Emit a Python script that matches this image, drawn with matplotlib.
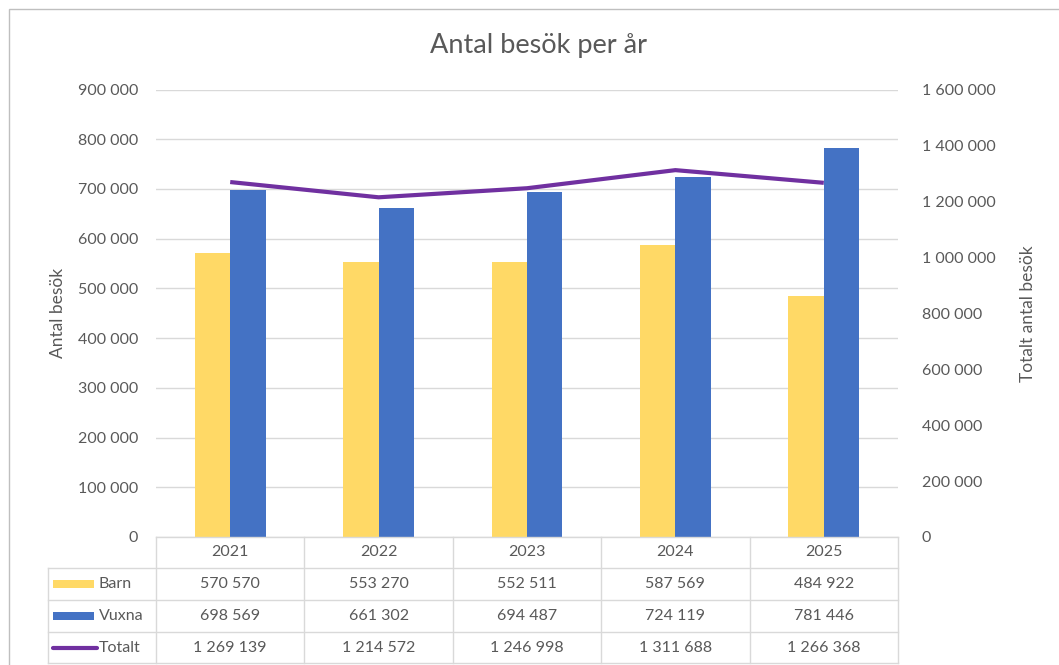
import matplotlib
matplotlib.use("Agg")
import matplotlib.pyplot as plt
import numpy as np
from matplotlib.transforms import blended_transform_factory
from matplotlib.patches import Rectangle
from matplotlib.lines import Line2D

years = ["2021", "2022", "2023", "2024", "2025"]
barn = [570570, 553270, 552511, 587569, 484922]
vuxna = [698569, 661302, 694487, 724119, 781446]
totalt = [1269139, 1214572, 1246998, 1311688, 1266368]
series_names = ["Barn", "Vuxna", "Totalt"]
left_ticks = [0, 100000, 200000, 300000, 400000, 500000, 600000, 700000, 800000, 900000]
right_ticks = [0, 200000, 400000, 600000, 800000, 1000000, 1200000, 1400000, 1600000]

C_BARN = "#FFD966"
C_VUXNA = "#4472C4"
C_TOT = "#7030A0"
TXT = "#595959"
GRID = "#D9D9D9"

plt.rcParams['font.family'] = ['Lato', 'DejaVu Sans']

W, H = 1059, 665
fig = plt.figure(figsize=(W / 100, H / 100), dpi=100)

def fy(py):
    return 1 - py / H

def fx(px):
    return px / W

L, R, T, B = 156, 898, 89.5, 537
ax = fig.add_axes([fx(L), fy(B), fx(R) - fx(L), fy(T) - fy(B)])
ax2 = ax.twinx()

x = np.arange(len(years))
bw = 0.239
ax.bar(x - bw / 2, barn, width=bw, color=C_BARN, zorder=3)
ax.bar(x + bw / 2, vuxna, width=bw, color=C_VUXNA, zorder=3)
ax.set_xlim(-0.5, len(years) - 0.5)
ax.set_ylim(0, 900000)
ax.set_yticks(left_ticks)
ax.set_yticklabels([f"{v:,}".replace(",", " ") for v in left_ticks])
ax.grid(axis='y', color=GRID, linewidth=1.0, zorder=0)
ax.set_xticks([])

ax2.plot(x, totalt, color=C_TOT, linewidth=3.0, solid_capstyle='butt', zorder=4)
ax2.set_ylim(0, 1600000)
ax2.set_yticks(right_ticks)
ax2.set_yticklabels([f"{v:,}".replace(",", " ") for v in right_ticks])

for a in (ax, ax2):
    for s in a.spines.values():
        s.set_visible(False)
    a.tick_params(axis='y', length=0, labelsize=11.5, labelcolor=TXT)
ax.tick_params(axis='y', pad=13)
ax2.tick_params(axis='y', pad=17)

ax.set_ylabel("Antal besök", fontsize=12.5, color=TXT, labelpad=8)
ax2.set_ylabel("Totalt antal besök", fontsize=12.5, color=TXT, labelpad=18)

fig.text(fx(538), fy(45), "Antal besök per år", ha='center', va='center',
         fontsize=19.5, color=TXT)

# chart border
fig.patches.append(Rectangle((fx(9), fy(700)), fx(1100) - fx(9), fy(9) - fy(700),
                             transform=fig.transFigure, fill=False, edgecolor="#BFBFBF",
                             linewidth=1.0))

# data table
tr = blended_transform_factory(ax.transData, fig.transFigure)
rows_y = [537, 568, 600, 632, 663]
lk = dict(color=GRID, linewidth=1.0, transform=fig.transFigure, clip_on=False)
fig.add_artist(Line2D([fx(L), fx(R)], [fy(537), fy(537)], **lk))
for yy in rows_y[1:]:
    fig.add_artist(Line2D([fx(48), fx(R)], [fy(yy), fy(yy)], **lk))
fig.add_artist(Line2D([fx(48), fx(48)], [fy(568), fy(663)], **lk))
for i in range(len(years) + 1):
    xb = i - 0.5
    fig.add_artist(Line2D([xb, xb], [fy(537), fy(663)], color=GRID, linewidth=1.0,
                          transform=tr, clip_on=False))

for i, yr in enumerate(years):
    fig.text(i, fy((537 + 568) / 2), yr, transform=tr, ha='center', va='center',
             fontsize=11.5, color=TXT)

vals = [barn, vuxna, totalt]
for r, (name, vv) in enumerate(zip(series_names, vals)):
    yc = fy((rows_y[r + 1] + rows_y[r + 2]) / 2)
    for i, v in enumerate(vv):
        fig.text(i, yc, f"{v:,}".replace(",", " "), transform=tr, ha='center', va='center',
                 fontsize=11.5, color=TXT)
    fig.text(fx(99), yc, name, ha='left', va='center', fontsize=11.5, color=TXT)

# legend keys
for r, col in enumerate([C_BARN, C_VUXNA]):
    yc = (rows_y[r + 1] + rows_y[r + 2]) / 2
    fig.patches.append(Rectangle((fx(53), fy(yc + 4)), fx(94) - fx(53), fy(yc - 4) - fy(yc + 4),
                                 transform=fig.transFigure, facecolor=col, edgecolor='none'))
yc = (rows_y[3] + rows_y[4]) / 2
fig.add_artist(Line2D([fx(53), fx(97)], [fy(yc), fy(yc)], color=C_TOT, linewidth=3.0,
                      transform=fig.transFigure, solid_capstyle='round'))

fig.savefig("out.png", dpi=100)
